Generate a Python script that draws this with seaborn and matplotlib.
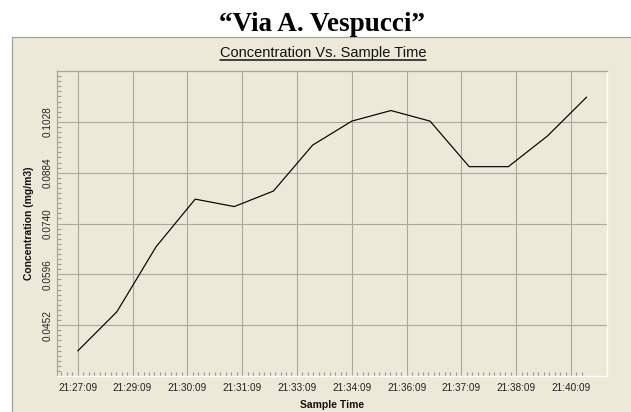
import numpy as np
import pandas as pd
import matplotlib
matplotlib.use("Agg")
import matplotlib.pyplot as plt
import seaborn as sns
from matplotlib.patches import Rectangle
from matplotlib.lines import Line2D
from matplotlib.ticker import FixedLocator, FormatStrFormatter

# ---- data ----
sample_times = ["21:27:09", "21:28:09", "21:29:09", "21:30:09", "21:31:09",
                "21:32:09", "21:33:09", "21:34:09", "21:35:09", "21:36:09",
                "21:37:09", "21:38:09", "21:39:09", "21:40:09"]
concentration = [0.0379, 0.0490, 0.0674, 0.0809, 0.0788, 0.0832, 0.0962,
                 0.1030, 0.1060, 0.1030, 0.0901, 0.0901, 0.0988, 0.1098]
tick_labels = ["21:27:09", "21:29:09", "21:30:09", "21:31:09", "21:33:09",
               "21:34:09", "21:36:09", "21:37:09", "21:38:09", "21:40:09"]
y_ticks = [0.0452, 0.0596, 0.0740, 0.0884, 0.1028]

main_title = "\u201cVia A. Vespucci\u201d"
sub_title = "Concentration Vs. Sample Time"
x_label = "Sample Time"
y_label = "Concentration (mg/m3)"

BG = "#ECE9D8"
GRID = "#ACA899"

t0 = pd.to_datetime(sample_times[0], format="%H:%M:%S")
minutes = [(pd.to_datetime(t, format="%H:%M:%S") - t0).total_seconds() / 60.0
           for t in sample_times]
df = pd.DataFrame({"minute": minutes, "conc": concentration})

sns.set_theme(style="white")
plt.rcParams["font.family"] = ["Liberation Sans", "DejaVu Sans"]

W, H = 631, 412
fig = plt.figure(figsize=(W / 100, H / 100), dpi=100, facecolor="white")

# beige panel
fig.add_artist(Rectangle((12 / W, -0.01), 1.0, (H - 37) / H + 0.01,
                         transform=fig.transFigure, facecolor=BG,
                         edgecolor="#A5A294", lw=0.9, zorder=-5))

ax = fig.add_axes([57 / W, (H - 376) / H, 550 / W, 305 / H])
ax.set_facecolor(BG)

sns.lineplot(data=df, x="minute", y="conc", ax=ax, color="black", lw=0.85)

ax.set_xlim(-0.53, 13.52)
ax.set_ylim(0.0308, 0.1172)

tick_step = 1.4
major_x = np.arange(len(tick_labels)) * tick_step
ax.set_xticks(major_x)
ax.set_xticklabels(tick_labels)
minor_x = np.round(np.arange(-3, 10 * (len(tick_labels) - 1) + 3) * tick_step / 10, 4)
ax.xaxis.set_minor_locator(FixedLocator(minor_x[minor_x <= df["minute"].max()]))

ax.set_yticks(y_ticks)
ax.yaxis.set_major_formatter(FormatStrFormatter("%.4f"))
ystep = y_ticks[1] - y_ticks[0]
minor_y = y_ticks[0] - ystep + np.arange(0, 61) * ystep / 10
ax.yaxis.set_minor_locator(FixedLocator(minor_y))

ax.tick_params(which="major", direction="out", length=3, width=0.75,
               color=GRID, labelsize=7.2, labelcolor="#222222", pad=2)
ax.tick_params(axis="y", which="major", pad=0)
ax.tick_params(which="minor", direction="in", length=3, width=0.8,
               color="#A09C8C", bottom=True, left=True)
for lab in ax.get_yticklabels():
    lab.set_rotation(90)
    lab.set_va("center")

ax.grid(True, which="major", color=GRID, lw=0.8)
ax.set_axisbelow(True)

for s in ["top", "left"]:
    ax.spines[s].set_color(GRID)
    ax.spines[s].set_linewidth(0.9)
for s in ["bottom", "right"]:
    ax.spines[s].set_color("white")
    ax.spines[s].set_linewidth(1.0)

ax.set_xlabel(x_label, fontsize=7.5, fontweight="bold", color="#111111", labelpad=5)
ax.set_ylabel(y_label, fontsize=7.5, fontweight="bold", color="#111111", labelpad=6)

fig.text(322 / W, (H - 31) / H, main_title, family=["Liberation Serif", "DejaVu Serif"],
         fontweight="bold", fontsize=19.5, ha="center", va="baseline", color="black")
sub = fig.text(323 / W, (H - 57) / H, sub_title, fontsize=10.5, ha="center",
               va="baseline", color="#111111")

fig.canvas.draw()
bb = sub.get_window_extent()
uy = (H - 59.5) / H
fig.add_artist(Line2D([bb.x0 / W, bb.x1 / W], [uy, uy], transform=fig.transFigure,
                      color="#111111", lw=1.1))

fig.savefig("out.png", dpi=100, facecolor="white")
